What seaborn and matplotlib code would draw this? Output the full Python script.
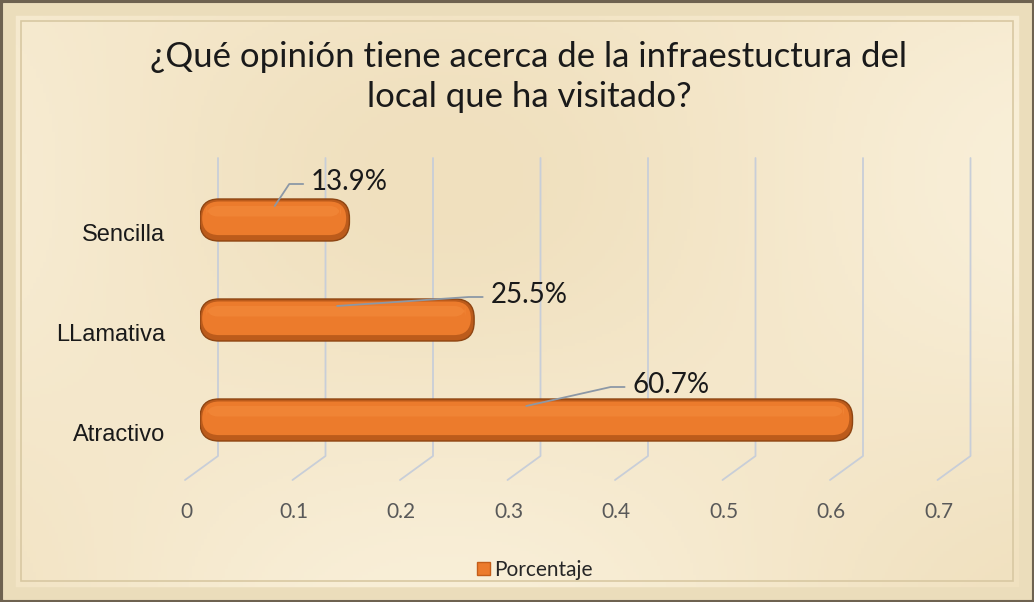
import numpy as np
import pandas as pd
import matplotlib
matplotlib.use('Agg')
import matplotlib.pyplot as plt
import seaborn as sns
from matplotlib.patches import FancyBboxPatch, Rectangle, Patch

# Data
categories = ['Sencilla', 'LLamativa', 'Atractivo']
values = [0.139, 0.255, 0.607]
value_labels = ['13.9%', '25.5%', '60.7%']
series_name = 'Porcentaje'
x_ticks = [0, 0.1, 0.2, 0.3, 0.4, 0.5, 0.6, 0.7]
title = '¿Qué opinión tiene acerca de la infraestuctura del\nlocal que ha visitado?'

W, H = 1034, 602
PAPER = '#F3E4C4'
ORANGE = '#EC7B2C'

sns.set_style('white')
plt.rcParams['font.family'] = ['Lato', 'DejaVu Sans']

fig = plt.figure(figsize=(W / 100, H / 100), dpi=100)
fig.patch.set_facecolor(PAPER)

# soft parchment shading behind everything
bg = fig.add_axes([0, 0, 1, 1], zorder=-10)
yy, xx = np.mgrid[0:1:200j, 0:1:340j]
shade = 0.5 + 0.5 * np.cos(5.0 * xx + 1.0) * np.sin(4.0 * yy + 0.4)
bg.imshow(shade, cmap=matplotlib.colors.LinearSegmentedColormap.from_list(
    'paper', ['#F0E0BE', '#F9EFD8']), aspect='auto', extent=[0, 1, 0, 1])
bg.set_axis_off()

# frame
fig.patches.append(Rectangle((1 / W, 1 / H), 1 - 2 / W, 1 - 2 / H, transform=fig.transFigure,
                             fill=False, edgecolor='#6E6250', linewidth=2.5))
fig.patches.append(Rectangle((9 / W, 9 / H), 1 - 18 / W, 1 - 18 / H, transform=fig.transFigure,
                             fill=False, edgecolor='#EBDDBB', linewidth=9))
fig.patches.append(Rectangle((21 / W, 21 / H), 1 - 42 / W, 1 - 42 / H, transform=fig.transFigure,
                             fill=False, edgecolor='#D8C8A2', linewidth=1.2))

# plot area: x=0 at px 200, 1075 px per unit; y rows 100 px apart
px_x = 1075.0
ax = fig.add_axes([200 / W, 1 - 480 / H, 0.7 * px_x / W, (480 - 158) / H])
df = pd.DataFrame({'Respuesta': categories, series_name: values})
sns.barplot(data=df, y='Respuesta', x=series_name, order=categories, orient='h',
            width=0.42, color=ORANGE, ax=ax)
ax.set_xlim(0, 0.7)
ax.set_ylim(2.6, -0.62)
ax.set_axis_off()
ax.patch.set_alpha(0)

dx_back = 18 / px_x
dx_front = 15 / px_x

# perspective gridlines
for t in x_ticks:
    ax.plot([t + dx_back, t + dx_back, t - dx_front], [-0.62, 2.36, 2.6],
            color='#C8CED8', lw=1.3, zorder=0, clip_on=False)
    ax.text(t - 0.013, 2.92, f'{t:g}', ha='center', va='center', fontsize=15,
            color='#595959', clip_on=False)

# rounded 3D-ish bars from seaborn patches
aspect = px_x / 100.0
r = 19 / px_x
for p in list(ax.patches):
    x0, y0, w, h = p.get_x(), p.get_y(), p.get_width(), p.get_height()
    p.set_visible(False)
    ax.add_patch(FancyBboxPatch((x0, y0), w, h, boxstyle=f'round,pad=0,rounding_size={r}',
                                mutation_aspect=aspect, facecolor='#BC5B1B',
                                edgecolor='#8E4512', lw=1.0, zorder=3))
    ax.add_patch(FancyBboxPatch((x0 + 0.002, y0 + 0.025), w - 0.005, h * 0.8,
                                boxstyle=f'round,pad=0,rounding_size={r * 0.9}',
                                mutation_aspect=aspect, facecolor=ORANGE,
                                edgecolor='none', zorder=4))
    ax.add_patch(FancyBboxPatch((x0 + 0.006, y0 + 0.07), w - 0.014, h * 0.25,
                                boxstyle=f'round,pad=0,rounding_size={r * 0.6}',
                                mutation_aspect=aspect, facecolor='#F79040',
                                edgecolor='none', alpha=0.45, zorder=5))

# category labels (slightly below bar centres, as in the 3D view)
for i, cat in enumerate(categories):
    ax.text(-35 / px_x, i + 0.15, cat, ha='right', va='center', fontsize=17,
            family=['Liberation Sans', 'DejaVu Sans'], color='#1A1A1A', clip_on=False)

# data labels with leader lines
label_pos = [(0.103, -0.38), (0.270, 0.75), (0.402, 1.65)]
for i, (v, lab) in enumerate(zip(values, value_labels)):
    lx, ly = label_pos[i]
    ax.plot([v * 0.5, lx - 0.02, lx - 0.007], [i - 0.14, ly + 0.02, ly + 0.02],
            color='#8C98A6', lw=1.3, zorder=6)
    ax.text(lx, ly, lab, ha='left', va='center', fontsize=20, color='#1A1A1A', zorder=6)

fig.text(529 / W, 1 - 77 / H, title, ha='center', va='center', fontsize=25,
         color='#1A1A1A', linespacing=1.3)

fig.legend(handles=[Patch(facecolor=ORANGE, edgecolor='#C45E1A')], labels=[series_name],
           loc='center', bbox_to_anchor=(535 / W, 1 - 570 / H), frameon=False,
           fontsize=15, handlelength=0.6, handleheight=0.6, handletextpad=0.2)

fig.savefig('out.png', dpi=100, facecolor=fig.get_facecolor())
